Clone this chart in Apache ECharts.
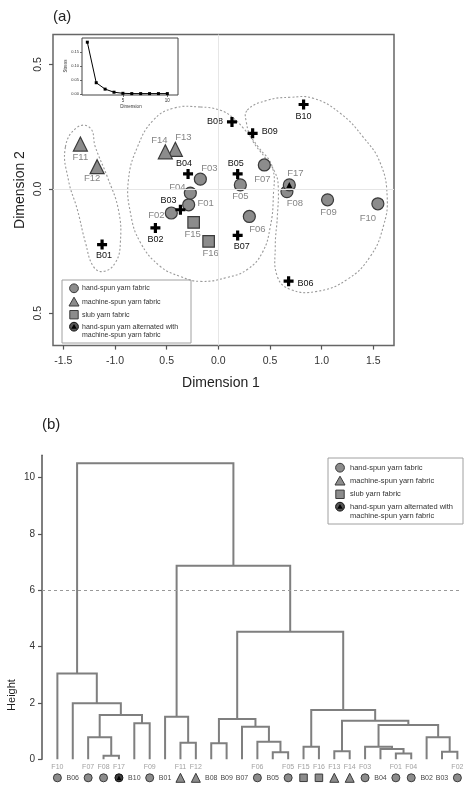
<!DOCTYPE html>
<html><head><meta charset="utf-8">
<script src="https://cdn.jsdelivr.net/npm/echarts@6/dist/echarts.min.js"></script>
<style>html,body{margin:0;padding:0;background:#fff;}#c{width:464px;height:786px;}</style>
</head><body><div id="c"></div>
<script>
// ---------------- DATA ----------------
// (a) MDS coordinates
const handSpunNames = ['F01','F02','F03','F04','F05','F06','F07','F08','F09','F10'];
const handSpunDim1  = [-0.287,-0.455,-0.174,-0.271,0.213,0.300,0.445,0.664,1.057,1.544];
const handSpunDim2  = [-0.064,-0.097,0.039,-0.017,0.016,-0.111,0.096,-0.011,-0.044,-0.060];
const machineNames  = ['F11','F12','F13','F14'];
const machineDim1   = [-1.335,-1.173,-0.416,-0.513];
const machineDim2   = [0.180,0.089,0.159,0.149];
const slubNames     = ['F15','F16'];
const slubDim1      = [-0.239,-0.094];
const slubDim2      = [-0.135,-0.211];
const altNames      = ['F17'];
const altDim1       = [0.687];
const altDim2       = [0.016];
const bNames        = ['B01','B02','B03','B04','B05','B06','B07','B08','B09','B10'];
const bDim1         = [-1.125,-0.609,-0.367,-0.293,0.187,0.680,0.187,0.132,0.332,0.825];
const bDim2         = [-0.224,-0.157,-0.084,0.060,0.060,-0.371,-0.187,0.269,0.223,0.339];
// dotted group outlines (data units)
const hullLeftX   = [-1.480,-1.364,-1.238,-1.190,-1.074,-0.967,-0.948,-0.996,-1.112,-1.209,-1.286,-1.364,-1.451];
const hullLeftY   = [0.168,0.248,0.244,0.168,0.048,-0.084,-0.216,-0.296,-0.332,-0.312,-0.216,-0.084,0.036];
const hullCenterX = [-0.174,0.019,0.135,0.242,0.387,0.522,0.532,0.503,0.426,0.280,0.087,-0.174,-0.368,-0.561,-0.754,-0.851,-0.870,-0.783,-0.629,-0.435];
const hullCenterY = [0.329,0.316,0.288,0.244,0.168,0.088,-0.032,-0.152,-0.256,-0.324,-0.356,-0.372,-0.352,-0.312,-0.216,-0.096,0.036,0.168,0.276,0.324];
const hullRightX  = [0.280,0.474,0.696,0.919,1.180,1.402,1.567,1.634,1.596,1.470,1.248,0.957,0.696,0.571,0.551,0.571,0.580,0.551,0.455,0.329,0.271];
const hullRightY  = [0.316,0.356,0.368,0.364,0.304,0.208,0.104,-0.032,-0.152,-0.272,-0.364,-0.412,-0.404,-0.352,-0.232,-0.112,0.008,0.064,0.124,0.196,0.268];
// tick labels as printed
const xTickValues = [-1.5,-1,-0.5,0,0.5,1,1.5];
const xTickLabels = ['-1.5','-1.0','0.5','0.0','0.5','1.0','1.5'];
const yTickValues = [-0.5,0,0.5];
const yTickLabels = ['0.5','0.0','0.5'];
// inset stress plot
const stressDims   = [1,2,3,4,5,6,7,8,9,10];
const stressValues = [0.185,0.040,0.017,0.006,0.002,0.001,0.001,0.001,0.001,0.001];
const stressYTicks = [0,0.05,0.10,0.15];
const stressXTicks = [5,10];
// (b) dendrogram
const leafOrder = ['F10','B06','F07','F08','F17','B10','F09','B01','F11','F12','B08','B09','B07','F06','B05','F05','F15','F16','F13','F14','F03','B04','F01','F04','B02','B03','F02'];
const mergeA = ['F08','F01','B05','B03','F13','B04','F03','F15','B08','F11','F06','F07','B02','B07','#7','B10','#5','#9','B01','#12','#8','B06','F10','#18','#19','#23'];
const mergeB = ['F17','F04','F05','F02','F14','#2','#6','F16','B09','F12','#3','#1','#4','#11','#13','F09','#15','#14','#10','#16','#17','#20','#22','#21','#24','#25'];
const mergeHeight = [0.13,0.21,0.25,0.27,0.29,0.37,0.45,0.45,0.57,0.59,0.62,0.78,0.78,1.16,1.22,1.28,1.37,1.43,1.51,1.57,1.75,1.99,3.05,4.53,6.87,10.51];
const heightTicks = [0,2,4,6,8,10];
const cutHeight = 6;

// ---------------- STYLE ----------------
const FONT = 'Liberation Sans, Arial, sans-serif';
const GREY = '#8c8c8c', EDGE = '#3a3a3a';
const labelOffsets = {
  F01:[17,-1],F02:[-15,2],F03:[9,-11],F04:[-13,-6],F05:[0,11],F06:[8,13],F07:[-2,14],F08:[8,12],F09:[1,13],F10:[-10,15],
  F11:[0,13],F12:[-5,12],F13:[8,-12],F14:[-6,-11],F15:[-1,12],F16:[2,12],F17:[6,-12],
  B01:[2,11],B02:[0,12],B03:[-12,-9],B04:[-4,-10],B05:[-2,-10],B06:[17,2],B07:[4,11],B08:[-17,0],B09:[17,-2],B10:[0,12]
};
const plusPath = 'path://M3.4,0H6.6V3.4H10V6.6H6.6V10H3.4V6.6H0V3.4H3.4Z';

function pts(names, xs, ys) {
  return names.map((n,i)=>({name:n, value:[xs[i], ys[i]], label:{offset: labelOffsets[n]}}));
}
const fLabel = {show:true, formatter:'{b}', position:'inside', fontSize:9.5, color:'#858585', fontFamily:FONT};
const bLabel = {show:true, formatter:'{b}', position:'inside', fontSize:9, color:'#111', fontFamily:FONT};

// hull renderer
function hullSeries(xs, ys) {
  return {
    type:'custom', xAxisIndex:0, yAxisIndex:0, silent:true, z:1,
    data: xs.map((x,i)=>[x, ys[i]]),
    renderItem: (params, api) => {
      if (params.dataIndex !== 0) return null;
      const p = xs.map((x,i)=>api.coord([x, ys[i]]));
      return {type:'polygon', shape:{points:p, smooth:0.45},
        style:{fill:null, stroke:'#9a9a9a', lineWidth:1.1, lineDash:[2,2]}};
    }
  };
}

// dendrogram geometry
const clusterX = [];
function refPos(r) {
  if (r[0] === '#') { const k = +r.slice(1) - 1; return {x: clusterX[k], h: mergeHeight[k]}; }
  return {x: leafOrder.indexOf(r), h: 0};
}
const dendroSegs = [];
for (let k = 0; k < mergeA.length; k++) {
  const a = refPos(mergeA[k]), b = refPos(mergeB[k]);
  clusterX.push((a.x + b.x) / 2);
  dendroSegs.push([a.x, a.h, b.x, b.h, mergeHeight[k]]);
}
function leafType(n) {
  if (handSpunNames.includes(n)) return 'circle';
  if (machineNames.includes(n)) return 'triangle';
  if (slubNames.includes(n)) return 'rect';
  if (altNames.includes(n)) return 'alt';
  return 'B';
}
const fLeafData = [], bLeafData = [], symLeafData = [];
leafOrder.forEach((n,i)=>{
  const t = leafType(n);
  if (t === 'B') bLeafData.push({name:n, value:[i,0]});
  else {
    fLeafData.push({name:n, value:[i,0]});
    const item = {name:n, value:[i,0], symbol: t === 'alt' ? 'circle' : t,
      symbolSize: t === 'triangle' ? 9 : (t === 'rect' ? 7.5 : 8)};
    if (t === 'alt') item.itemStyle = {color:'#3c3c3c', borderColor:'#111'};
    symLeafData.push(item);
  }
});
const altLeafData = leafOrder.map((n,i)=>({name:n, value:[i,0]})).filter(d=>leafType(d.name)==='alt');

// legend builder
function legend(x0, y0, w, h, ix, tx, ys, fs) {
  const r = 4.4;
  const els = [
    {type:'rect', shape:{x:x0, y:y0, width:w, height:h}, style:{fill:'#fff', stroke:'#a0a0a0', lineWidth:1}},
    {type:'circle', shape:{cx:ix, cy:ys[0], r:r}, style:{fill:GREY, stroke:EDGE, lineWidth:1}},
    {type:'polygon', shape:{points:[[ix,ys[1]-4.8],[ix+5,ys[1]+4],[ix-5,ys[1]+4]]}, style:{fill:GREY, stroke:EDGE, lineWidth:1}},
    {type:'rect', shape:{x:ix-4.2, y:ys[2]-4.2, width:8.4, height:8.4}, style:{fill:GREY, stroke:EDGE, lineWidth:1}},
    {type:'circle', shape:{cx:ix, cy:ys[3], r:r}, style:{fill:'#555', stroke:'#111', lineWidth:1}},
    {type:'polygon', shape:{points:[[ix,ys[3]-2.8],[ix+2.8,ys[3]+2],[ix-2.8,ys[3]+2]]}, style:{fill:'#000'}}
  ];
  const texts = ['hand-spun yarn fabric','machine-spun yarn fabric','slub yarn fabric','hand-spun yarn alternated with','machine-spun yarn fabric'];
  texts.forEach((t,i)=>els.push({type:'text', x:tx, y:ys[i], style:{text:t, fontSize:fs, fill:'#333', fontFamily:FONT, verticalAlign:'middle', align:'left'}}));
  return els;
}

const option = {
  animation:false,
  backgroundColor:'#fff',
  textStyle:{fontFamily:FONT},
  grid:[
    {left:53, top:34.6, width:341, height:311, show:true, borderColor:'#666', borderWidth:1.5, backgroundColor:'transparent'},
    {left:82, top:38, width:96, height:57, show:true, borderColor:'#444', borderWidth:1, backgroundColor:'#fff', z:5},
    {left:42, top:455.2, width:420, height:304.1, show:false}
  ],
  xAxis:[
    {type:'value', gridIndex:0, min:-1.6, max:1.7, position:'bottom',
      axisLine:{show:false, onZero:false}, splitLine:{show:false},
      axisTick:{show:true, customValues:xTickValues, length:4, lineStyle:{color:'#555', width:1.2}},
      axisLabel:{customValues:xTickValues, margin:10, fontSize:10.5, color:'#333',
        formatter:v=>{const i = xTickValues.findIndex(t=>Math.abs(t-v)<1e-6); return i<0?'':xTickLabels[i];}}},
    {type:'value', gridIndex:1, min:0.4, max:11.2, z:6, position:'bottom',
      axisLine:{show:false, onZero:false}, splitLine:{show:false},
      axisTick:{show:true, customValues:stressXTicks, length:2, lineStyle:{color:'#444', width:0.8}},
      axisLabel:{customValues:stressXTicks, margin:3, fontSize:4.5, color:'#333'}},
    {type:'value', gridIndex:2, min:-1, max:26.3, show:false}
  ],
  yAxis:[
    {type:'value', gridIndex:0, min:-0.63, max:0.62, position:'left',
      axisLine:{show:false, onZero:false}, splitLine:{show:false},
      axisTick:{show:true, customValues:yTickValues, length:4, lineStyle:{color:'#555', width:1.2}},
      axisLabel:{customValues:yTickValues, rotate:90, margin:9, fontSize:10.5, color:'#333',
        formatter:v=>{const i = yTickValues.findIndex(t=>Math.abs(t-v)<1e-6); return i<0?'':yTickLabels[i];}}},
    {type:'value', gridIndex:1, min:-0.004, max:0.2, z:6, position:'left',
      axisLine:{show:false, onZero:false}, splitLine:{show:false},
      axisTick:{show:true, customValues:stressYTicks, length:2, lineStyle:{color:'#444', width:0.8}},
      axisLabel:{customValues:stressYTicks, margin:3, fontSize:4, color:'#333', formatter:v=>v.toFixed(2)}},
    {type:'value', gridIndex:2, min:0, max:10.8, position:'left',
      axisLine:{show:true, onZero:false, lineStyle:{color:'#555', width:1.5}}, splitLine:{show:false},
      axisTick:{show:true, customValues:heightTicks, length:4, lineStyle:{color:'#555', width:1.2}},
      axisLabel:{customValues:heightTicks, margin:7, fontSize:10, color:'#333'}}
  ],
  series:[
    hullSeries(hullLeftX, hullLeftY),
    hullSeries(hullCenterX, hullCenterY),
    hullSeries(hullRightX, hullRightY),
    {type:'scatter', name:'hand-spun yarn fabric', xAxisIndex:0, yAxisIndex:0, z:3,
      data: pts(handSpunNames, handSpunDim1, handSpunDim2), symbol:'circle', symbolSize:12,
      itemStyle:{color:GREY, borderColor:EDGE, borderWidth:1.2, opacity:1}, label:fLabel,
      markLine:{silent:true, symbol:'none', label:{show:false}, lineStyle:{color:'#e6e6e6', width:1, type:'solid'},
        data:[{xAxis:0},{yAxis:0}]}},
    {type:'scatter', name:'machine-spun yarn fabric', xAxisIndex:0, yAxisIndex:0, z:3,
      data: pts(machineNames, machineDim1, machineDim2), symbol:'triangle', symbolSize:14,
      itemStyle:{color:GREY, borderColor:EDGE, borderWidth:1.2, opacity:1}, label:fLabel},
    {type:'scatter', name:'slub yarn fabric', xAxisIndex:0, yAxisIndex:0, z:3,
      data: pts(slubNames, slubDim1, slubDim2), symbol:'rect', symbolSize:11.5,
      itemStyle:{color:GREY, borderColor:EDGE, borderWidth:1.2, opacity:1}, label:fLabel},
    {type:'scatter', name:'hand-spun yarn alternated with machine-spun yarn fabric', xAxisIndex:0, yAxisIndex:0, z:3,
      data: pts(altNames, altDim1, altDim2), symbol:'circle', symbolSize:12,
      itemStyle:{color:GREY, borderColor:EDGE, borderWidth:1.2, opacity:1}, label:fLabel},
    {type:'scatter', xAxisIndex:0, yAxisIndex:0, z:4, silent:true,
      data: altNames.map((n,i)=>[altDim1[i], altDim2[i]]), symbol:'triangle', symbolSize:6,
      itemStyle:{color:'#000', opacity:1}},
    {type:'scatter', name:'B', xAxisIndex:0, yAxisIndex:0, z:4,
      data: pts(bNames, bDim1, bDim2), symbol:plusPath, symbolSize:10,
      itemStyle:{color:'#000', opacity:1}, label:bLabel},
    // inset stress
    {type:'line', xAxisIndex:1, yAxisIndex:1, z:7,
      data: stressDims.map((d,i)=>[d, stressValues[i]]), symbol:'rect', symbolSize:3,
      lineStyle:{color:'#000', width:1}, itemStyle:{color:'#000'}},
    // dendrogram
    {type:'custom', xAxisIndex:2, yAxisIndex:2, silent:true,
      data: dendroSegs, encode:{x:[0,2], y:[1,3,4]},
      renderItem:(params, api)=>{
        const xa=api.value(0), ha=api.value(1), xb=api.value(2), hb=api.value(3), h=api.value(4);
        return {type:'polyline', shape:{points:[api.coord([xa,ha]), api.coord([xa,h]), api.coord([xb,h]), api.coord([xb,hb])]},
          style:{stroke:'#7f7f7f', lineWidth:2, fill:null}};
      },
      markLine:{silent:true, symbol:'none', label:{show:false}, lineStyle:{color:'#999', width:1, type:[3,3]},
        data:[{yAxis:cutHeight}]}},
    {type:'scatter', xAxisIndex:2, yAxisIndex:2, silent:true, data:fLeafData, symbolSize:1,
      itemStyle:{color:'rgba(0,0,0,0)'},
      label:{show:true, formatter:'{b}', position:'inside', offset:[0,8], fontSize:7, color:'#888', fontFamily:FONT}},
    {type:'scatter', xAxisIndex:2, yAxisIndex:2, silent:true, data:bLeafData, symbolSize:1,
      itemStyle:{color:'rgba(0,0,0,0)'},
      label:{show:true, formatter:'{b}', position:'inside', offset:[0,18.5], fontSize:7, color:'#111', fontFamily:FONT}},
    {type:'scatter', xAxisIndex:2, yAxisIndex:2, silent:true, data:symLeafData, symbolOffset:[0,18.5],
      itemStyle:{color:GREY, borderColor:EDGE, borderWidth:1, opacity:1}},
    {type:'scatter', xAxisIndex:2, yAxisIndex:2, silent:true, z:3, data:altLeafData, symbol:'triangle', symbolSize:4.5,
      symbolOffset:[0,18.5], itemStyle:{color:'#000', opacity:1}}
  ],
  graphic:[
    {type:'text', x:53, y:17, style:{text:'(a)', fontSize:15, fill:'#222', fontFamily:FONT, verticalAlign:'middle'}},
    {type:'text', x:42, y:425, style:{text:'(b)', fontSize:15, fill:'#222', fontFamily:FONT, verticalAlign:'middle'}},
    {type:'text', x:221, y:383, style:{text:'Dimension 1', fontSize:14, fill:'#222', fontFamily:FONT, align:'center', verticalAlign:'middle'}},
    {type:'text', x:20, y:190, rotation:Math.PI/2, style:{text:'Dimension 2', fontSize:14, fill:'#222', fontFamily:FONT, align:'center', verticalAlign:'middle'}},
    {type:'text', x:12, y:695, rotation:Math.PI/2, style:{text:'Height', fontSize:11, fill:'#222', fontFamily:FONT, align:'center', verticalAlign:'middle'}},
    {type:'text', x:66, y:66, rotation:Math.PI/2, z:10, style:{text:'Stress', fontSize:4.5, fill:'#333', fontFamily:FONT, align:'center', verticalAlign:'middle'}},
    {type:'text', x:131, y:107, z:10, style:{text:'Dimension', fontSize:4.5, fill:'#333', fontFamily:FONT, align:'center', verticalAlign:'middle'}},
    {type:'group', children: legend(62, 280, 129, 63, 74, 82, [288.3,302,314.7,326.7,335], 7)},
    {type:'group', children: legend(328, 458, 135, 66, 340, 350, [467.7,481,494.3,506.7,515.7], 7.5)}
  ]
};
const chart = echarts.init(document.getElementById('c'));
chart.setOption(option);
</script></body></html>
